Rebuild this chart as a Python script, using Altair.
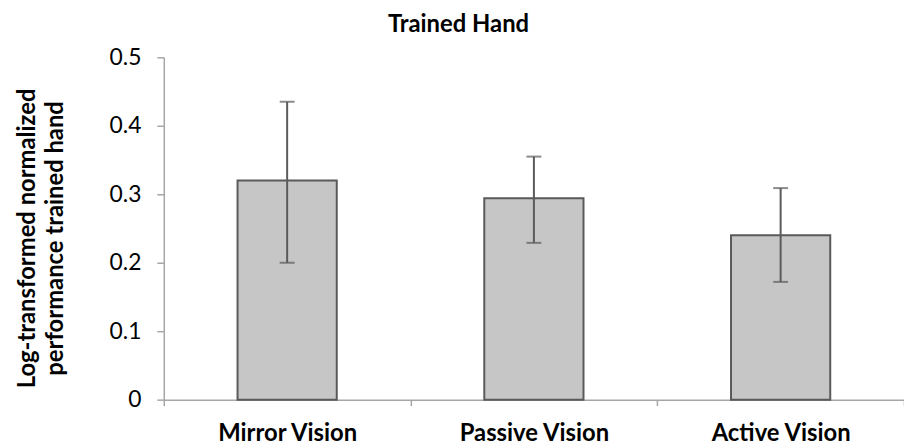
import altair as alt
import pandas as pd

categories = ["Mirror Vision", "Passive Vision", "Active Vision"]
means = [0.320, 0.294, 0.240]
err_low = [0.200, 0.229, 0.172]
err_high = [0.435, 0.355, 0.309]

df = pd.DataFrame({"cond": categories, "mean": means, "lo": err_low, "hi": err_high})

FONT = "Lato"
AX = "#a6a6a6"
DARK = "#5a5a5a"

x = alt.X("cond:N", sort=categories, title=None,
          scale=alt.Scale(paddingInner=0, paddingOuter=0),
          axis=alt.Axis(tickBand="extent", labelAngle=0, labelFontSize=24,
                        labelFontWeight="bold", labelFont=FONT, labelColor="#000000",
                        labelPadding=16, tickSize=6, domainColor=AX, tickColor=AX,
                        domainWidth=1.5, tickWidth=1.5))

y_axis = alt.Axis(values=[0, 0.1, 0.2, 0.3, 0.4, 0.5],
                  labelExpr="datum.value == 0 ? '0' : format(datum.value, '.1f')",
                  labelFontSize=23, labelFont=FONT, labelColor="#000000", labelPadding=16,
                  tickSize=7, domainColor=AX, tickColor=AX, domainWidth=1.5, tickWidth=1.5,
                  grid=False,
                  title=["Log-transformed normalized", "performance trained hand"],
                  titleFont=FONT, titleFontSize=24, titleFontWeight="bold", titleColor="#000000",
                  titleLineHeight=28, titleX=-137, titleY=182, titleBaseline="middle",
                  titleAlign="center", titleAngle=270)

y = alt.Y("mean:Q", scale=alt.Scale(domain=[0, 0.5], nice=False), axis=y_axis)

bars = alt.Chart(df).mark_bar(size=100, fill="#c6c6c6", stroke=DARK, strokeWidth=2).encode(x=x, y=y)

rules = alt.Chart(df).mark_rule(color=DARK, strokeWidth=2).encode(
    x=alt.X("cond:N", sort=categories), y="lo:Q", y2="hi:Q")

caps_hi = alt.Chart(df).mark_tick(color=DARK, size=15, thickness=2).encode(
    x=alt.X("cond:N", sort=categories), y="hi:Q")
caps_lo = alt.Chart(df).mark_tick(color=DARK, size=15, thickness=2).encode(
    x=alt.X("cond:N", sort=categories), y="lo:Q")

chart = alt.layer(bars, rules, caps_hi, caps_lo).properties(
    width=746, height=345,
    background="white",
    title=alt.TitleParams("Trained Hand", font=FONT, fontSize=24, fontWeight="bold",
                          color="#000000", dx=-76, offset=10),
    autosize=alt.AutoSizeParams(type="none"),
    padding={"left": 157, "top": 48, "right": 0, "bottom": 45},
).configure_view(stroke=None)

chart.save("out.html", embed_options={"renderer": "svg", "actions": False})
